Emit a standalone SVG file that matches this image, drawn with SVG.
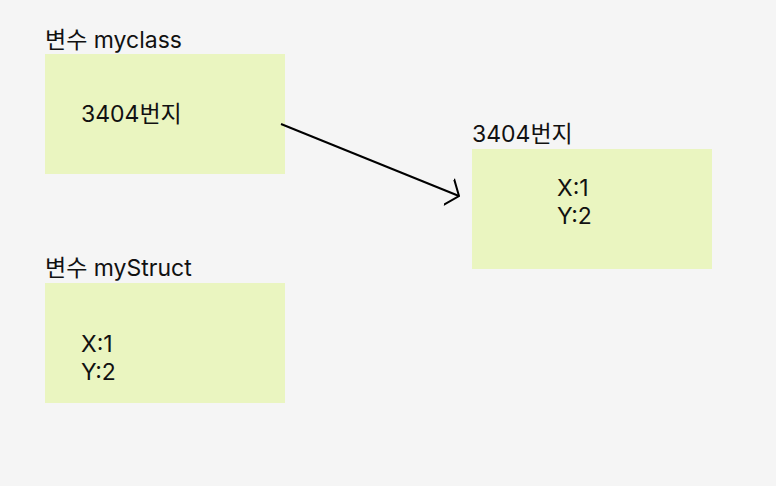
<svg xmlns="http://www.w3.org/2000/svg" width="776" height="486" viewBox="0 0 776 486">
<style>
.bg{fill:#f5f5f5}
.box{fill:#eaf5c0}
text{font-family:Inter,"Noto Sans CJK KR",sans-serif;font-size:23px;fill:#111}
.conn{stroke:#000;stroke-width:2;fill:none}
</style>
<defs>
<marker id="arr" viewBox="0 0 12 30" refX="11" refY="15" markerWidth="12" markerHeight="30" markerUnits="userSpaceOnUse" orient="auto">
<path d="M0,1 L11,15 L0,29" fill="none" stroke="#000" stroke-width="2"/>
</marker>
</defs>
<rect class="bg" x="0" y="0" width="776" height="486"/>
<g id="myclass">
<text x="45" y="48">변수 myclass</text>
<rect class="box" x="45" y="54" width="240" height="120"/>
<text x="81" y="122">3404번지</text>
</g>
<g id="heap">
<text x="472" y="142">3404번지</text>
<rect class="box" x="472" y="149" width="240" height="120"/>
<text x="557" y="196">X:1</text>
<text x="557" y="224">Y:2</text>
</g>
<g id="mystruct">
<text x="45" y="276">변수 myStruct</text>
<rect class="box" x="45" y="283" width="240" height="120"/>
<text x="81" y="352">X:1</text>
<text x="81" y="380">Y:2</text>
</g>
<g id="connectors">
<line class="conn" x1="281" y1="124" x2="459" y2="196" marker-end="url(#arr)"/>
</g>
</svg>
